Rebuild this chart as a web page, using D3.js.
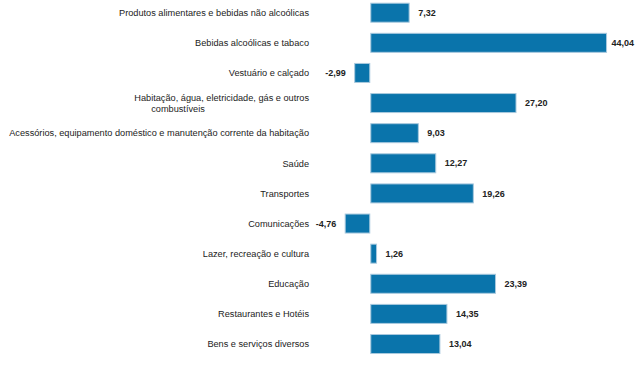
<!DOCTYPE html>
<html>
<head>
<meta charset="utf-8">
<script src="https://cdn.jsdelivr.net/npm/d3@7"></script>
<style>
  html, body { margin: 0; padding: 0; background: #fff; }
  svg { display: block; }
</style>
</head>
<body>
<svg id="chart" width="640" height="369"></svg>
<script>
const categories = [
  "Produtos alimentares e bebidas não alcoólicas",
  "Bebidas alcoólicas e tabaco",
  "Vestuário e calçado",
  "Habitação, água, eletricidade, gás e outros\ncombustíveis",
  "Acessórios, equipamento doméstico e manutenção corrente da habitação",
  "Saúde",
  "Transportes",
  "Comunicações",
  "Lazer, recreação e cultura",
  "Educação",
  "Restaurantes e Hotéis",
  "Bens e serviços diversos"
];
const values = [7.32, 44.04, -2.99, 27.20, 9.03, 12.27, 19.26, -4.76, 1.26, 23.39, 14.35, 13.04];
const labels = ["7,32", "44,04", "-2,99", "27,20", "9,03", "12,27", "19,26", "-4,76", "1,26", "23,39", "14,35", "13,04"];

const data = categories.map((c, i) => ({ cat: c, value: values[i], label: labels[i] }));

const svg = d3.select("#chart");
const W = 640;

const x = d3.scaleLinear().domain([-5, 45]).range([343.4, 612.2]);
const y = d3.scaleBand().domain(categories).range([-2.36, 359.08])
  .paddingInner(0.336).paddingOuter(0.168);

const fill = "#0a74ab";
const edge = "#a9c9de";

// bars
svg.append("g").selectAll("rect").data(data).join("rect")
  .attr("x", d => x(Math.min(0, d.value)) + 0.5)
  .attr("y", d => y(d.cat) + 0.5)
  .attr("width", d => Math.abs(x(d.value) - x(0)) - 1)
  .attr("height", y.bandwidth() - 1)
  .attr("fill", fill)
  .attr("stroke", edge)
  .attr("stroke-width", 1);

// category labels
const catX = 309;
const cg = svg.append("g")
  .attr("font-family", "'Liberation Sans', Arial, sans-serif")
  .attr("font-size", "9.2px")
  .attr("fill", "#222");
data.forEach(d => {
  const lines = d.cat.split("\n");
  const cy = y(d.cat) + y.bandwidth() / 2;
  if (lines.length === 1) {
    cg.append("text").attr("x", catX).attr("y", cy).attr("dy", "0.35em")
      .attr("text-anchor", "end").text(lines[0]);
  } else {
    cg.append("text").attr("x", catX).attr("y", cy - 5.5).attr("dy", "0.35em")
      .attr("text-anchor", "end").text(lines[0]);
    cg.append("text").attr("x", 178).attr("y", cy + 5.5).attr("dy", "0.35em")
      .attr("text-anchor", "middle").text(lines[1]);
  }
});

// value labels
const vg = svg.append("g")
  .attr("font-family", "'Liberation Sans', Arial, sans-serif")
  .attr("font-size", "9px")
  .attr("font-weight", "bold")
  .attr("fill", "#222");
data.forEach(d => {
  const cy = y(d.cat) + y.bandwidth() / 2;
  const t = vg.append("text").attr("y", cy).attr("dy", "0.35em").text(d.label);
  if (d.value >= 0) {
    const tx = x(d.value) + 8.5;
    const w = t.node().getComputedTextLength();
    if (tx + w > W - 6) {
      t.attr("x", W - 6).attr("text-anchor", "end");
    } else {
      t.attr("x", tx).attr("text-anchor", "start");
    }
  } else {
    t.attr("x", x(d.value) - 8.5).attr("text-anchor", "end");
  }
});
</script>
</body>
</html>
